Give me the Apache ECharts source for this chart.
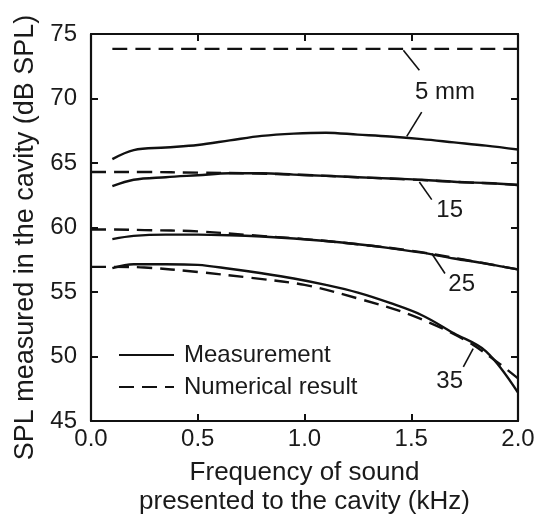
<!DOCTYPE html>
<html>
<head>
<meta charset="utf-8">
<style>
html,body{margin:0;padding:0;background:#fff;}
#chart{width:536px;height:516px;}
</style>
<script src="https://cdn.jsdelivr.net/npm/echarts@6/dist/echarts.min.js"></script>
</head>
<body>
<div id="chart"></div>
<script>
// ---- data ----
const freqMeas = [0.1,0.2,0.35,0.5,0.65,0.8,0.95,1.1,1.25,1.4,1.55,1.7,1.85,2.0];
const meas5  = [65.3,66.0,66.2,66.4,66.75,67.1,67.28,67.35,67.2,67.05,66.85,66.6,66.35,66.05];
const meas15 = [63.2,63.7,63.9,64.05,64.2,64.2,64.1,64.0,63.9,63.8,63.7,63.55,63.45,63.3];
const meas25 = [59.1,59.35,59.45,59.45,59.4,59.3,59.15,58.95,58.7,58.4,58.05,57.6,57.2,56.75];
const meas35 = [56.85,57.15,57.15,57.1,56.8,56.45,56.05,55.55,54.95,54.15,53.2,51.8,50.4,47.2];

const freqNum = [0.0,0.1,0.25,0.5,0.75,1.0,1.25,1.5,1.75,1.9,2.0];
const num5  = [null,73.85,73.85,73.85,73.85,73.85,73.85,73.85,73.85,73.85,73.85];
const num15 = [64.3,64.3,64.3,64.25,64.2,64.07,63.9,63.72,63.5,63.4,63.3];
const num25 = [59.85,59.85,59.8,59.7,59.4,59.1,58.7,58.2,57.5,57.05,56.75];
const num35 = [56.95,56.95,56.9,56.55,56.1,55.55,54.5,53.2,51.3,49.6,48.3];

const xTicks = [0, 0.5, 1.0, 1.5, 2.0];
const yTicks = [45, 50, 55, 60, 65, 70, 75];

const annoLabels = ['5 mm', '15', '25', '35'];
const annoPos = [[1.658,70.48],[1.68,61.33],[1.736,55.6],[1.68,48.1]];
const leaders = [
  [[1.463,73.74],[1.538,72.19]],
  [[1.549,68.95],[1.479,67.07]],
  [[1.538,63.53],[1.596,62.16]],
  [[1.596,57.98],[1.658,56.43]],
  [[1.79,50.61],[1.744,49.19]]
];

const seriesName = {meas: 'Measurement', num: 'Numerical result'};
// ---- chart ----
const INK = '#111';
const TXT = '#1a1a1a';
const FONT = 'Liberation Sans, Arial, sans-serif';
const zip = (xs, ys) => xs.map((x, i) => [x, ys[i]]);

function lineSeries(name, xs, ys, dashed) {
  return {
    type: 'line', name: name, data: zip(xs, ys),
    smooth: 0.35, symbol: 'none', showSymbol: false, silent: true,
    lineStyle: {color: INK, width: 2.4, type: dashed ? [15, 8] : 'solid'},
    itemStyle: {color: INK},
    z: dashed ? 3 : 4
  };
}

const chart = echarts.init(document.getElementById('chart'), null, {renderer: 'canvas'});
const axisCommon = {
  type: 'value',
  axisLine: {show: true, onZero: false, lineStyle: {color: INK, width: 2.2}},
  axisTick: {show: true, inside: true, length: 7, lineStyle: {color: INK, width: 2}},
  splitLine: {show: false}
};
chart.setOption({
  animation: false,
  backgroundColor: '#fff',
  textStyle: {fontFamily: FONT},
  grid: {left: 91, right: 18, top: 34, bottom: 95, containLabel: false, outerBoundsMode: 'none'},
  legend: {
    data: [seriesName.meas, seriesName.num],
    orient: 'vertical', left: 118, top: 343, padding: 0,
    itemWidth: 55, itemHeight: 14, itemGap: 8,
    selectedMode: false,
    itemStyle: {opacity: 0},
    textStyle: {fontSize: 24, color: TXT, fontFamily: FONT, lineHeight: 24, padding: [0, 0, 0, 5]}
  },
  xAxis: [
    Object.assign({}, axisCommon, {
      position: 'bottom', min: xTicks[0], max: xTicks[xTicks.length - 1], interval: 0.5,
      axisLabel: {fontSize: 24, color: TXT, fontFamily: FONT, margin: 6, formatter: v => v.toFixed(1)},
      name: 'Frequency of sound\npresented to the cavity (kHz)',
      nameLocation: 'middle', nameGap: 37,
      nameTextStyle: {fontSize: 26, color: TXT, fontFamily: FONT, lineHeight: 29, verticalAlign: 'top'}
    }),
    Object.assign({}, axisCommon, {
      position: 'top', min: xTicks[0], max: xTicks[xTicks.length - 1], interval: 0.5,
      axisLabel: {show: false}
    })
  ],
  yAxis: [
    Object.assign({}, axisCommon, {
      position: 'left', min: yTicks[0], max: yTicks[yTicks.length - 1], interval: 5,
      axisLabel: {fontSize: 24, color: TXT, fontFamily: FONT, margin: 14},
      name: 'SPL measured in the cavity (dB SPL)',
      nameLocation: 'middle', nameGap: 52, nameRotate: 90,
      nameTextStyle: {fontSize: 27, color: TXT, fontFamily: FONT, padding: [0, 20, 0, 0]}
    }),
    Object.assign({}, axisCommon, {
      position: 'right', min: yTicks[0], max: yTicks[yTicks.length - 1], interval: 5,
      axisLabel: {show: false}
    })
  ],
  series: [
    lineSeries(seriesName.meas, freqMeas, meas5, false),
    lineSeries(seriesName.meas, freqMeas, meas15, false),
    lineSeries(seriesName.meas, freqMeas, meas25, false),
    lineSeries(seriesName.meas, freqMeas, meas35, false),
    lineSeries(seriesName.num, freqNum, num5, true),
    lineSeries(seriesName.num, freqNum, num15, true),
    lineSeries(seriesName.num, freqNum, num25, true),
    lineSeries(seriesName.num, freqNum, num35, true),
    {
      type: 'scatter', name: 'annotations', silent: true,
      data: annoPos.map((p, i) => ({value: p, label: {formatter: annoLabels[i]}})),
      symbolSize: 1, itemStyle: {color: 'rgba(0,0,0,0)'},
      label: {show: true, position: 'inside', fontSize: 24, color: TXT, opacity: 1, fontFamily: FONT},
      markLine: {
        silent: true, symbol: ['none', 'none'], label: {show: false},
        lineStyle: {color: INK, width: 1.6, type: 'solid'},
        data: leaders.map(seg => [{coord: seg[0]}, {coord: seg[1]}])
      },
      z: 5
    }
  ]
});
</script>
</body>
</html>
